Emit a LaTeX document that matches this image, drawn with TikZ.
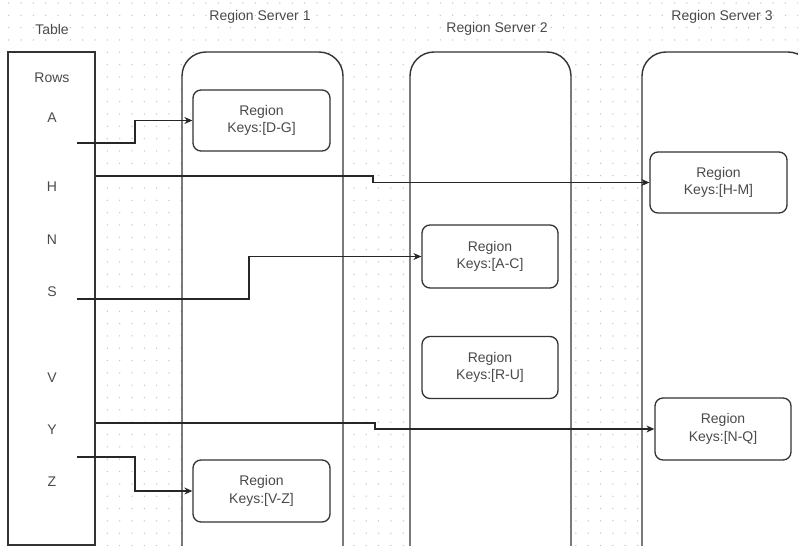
\documentclass[tikz,border=0pt]{standalone}
\usepackage{fontspec}
\setmainfont{Liberation Sans}
\usetikzlibrary{arrows.meta}
\definecolor{inkline}{HTML}{333333}
\definecolor{inktext}{HTML}{4A4A4A}
\definecolor{griddot}{HTML}{C4C4C4}
\tikzset{
  lbl/.style={text=inktext, font=\fontsize{14}{17.5}\selectfont, inner sep=0pt},
  tablebox/.style={draw=inkline, line width=1.4pt, fill=white, inner sep=0pt},
  serverbox/.style={draw=inkline, line width=1.4pt, fill=white, rounded corners=24pt, inner sep=0pt},
  regionbox/.style={draw=inkline, line width=1.3pt, fill=white, rounded corners=8pt,
    align=center, text=inktext, font=\fontsize{14}{17.5}\selectfont, inner sep=0pt},
  conn/.style={draw=black!85, line width=1.1pt, -{Stealth[length=8pt,width=7pt]}},
  connplain/.style={draw=black!85, line width=1.1pt}
}
\begin{document}
\begin{tikzpicture}[x=1pt, y=-1pt]
  \useasboundingbox (0,0) rectangle (798,546);
  \fill[white] (0,0) rectangle (798,546);
  % dotted background grid
  \foreach \i in {0,...,64} {
    \foreach \j in {0,...,44} {
      \fill[griddot] ({8.7+12.33*\i},{3+12.33*\j}) circle (0.75pt);
    }
  }
  % table and servers
  \node[tablebox, minimum width=87pt, minimum height=493pt] (table) at (51.5,298.5) {};
  \node[serverbox, minimum width=161pt, minimum height=520pt] (rs1) at (262.5,312) {};
  \node[serverbox, minimum width=161pt, minimum height=520pt] (rs2) at (490.5,312) {};
  \node[serverbox, minimum width=170pt, minimum height=520pt] (rs3) at (727,312) {};
  % titles
  \node[lbl] (ttable) at (52,29) {Table};
  \node[lbl] (trs1) at (260,17) {Region Server 1};
  \node[lbl] (trs2) at (497,29) {Region Server 2};
  \node[lbl] (trs3) at (722,17) {Region Server 3};
  % rows
  \node[lbl] (rows) at (52,78) {Rows};
  \node[lbl] (rowA) at (52,118) {A};
  \node[lbl] (rowH) at (52,187) {H};
  \node[lbl] (rowN) at (52,240) {N};
  \node[lbl] (rowS) at (52,292) {S};
  \node[lbl] (rowV) at (52,378) {V};
  \node[lbl] (rowY) at (52,430) {Y};
  \node[lbl] (rowZ) at (52,482) {Z};
  % regions
  \node[regionbox, minimum width=137pt, minimum height=61pt] (rDG) at (261.5,120.5) {Region\\Keys:[D-G]};
  \node[regionbox, minimum width=137pt, minimum height=61pt] (rHM) at (718.5,182.5) {Region\\Keys:[H-M]};
  \node[regionbox, minimum width=136pt, minimum height=63pt] (rAC) at (490,256.5) {Region\\Keys:[A-C]};
  \node[regionbox, minimum width=136pt, minimum height=62pt] (rRU) at (490,367.5) {Region\\Keys:[R-U]};
  \node[regionbox, minimum width=136pt, minimum height=62pt] (rNQ) at (723,429) {Region\\Keys:[N-Q]};
  \node[regionbox, minimum width=137pt, minimum height=62pt] (rVZ) at (261.5,491) {Region\\Keys:[V-Z]};
  % connector start points
  \coordinate (aout) at (77,143);
  \coordinate (hout) at (table.east |- 0,176);
  \coordinate (sout) at (77,299);
  \coordinate (yout) at (table.east |- 0,423);
  \coordinate (zout) at (77,457);
  % connectors
  \draw[conn] (aout) -- (135,143) |- (rDG.west);
  \draw[conn] (hout) -- (373,176) |- (rHM.west);
  \draw[conn] (sout) -- (249,299) |- (rAC.west);
  \draw[conn] (yout) -- (375,423) |- (rNQ.west);
  \draw[conn] (zout) -- (135,457) |- (rVZ.west);
\end{tikzpicture}
\end{document}
